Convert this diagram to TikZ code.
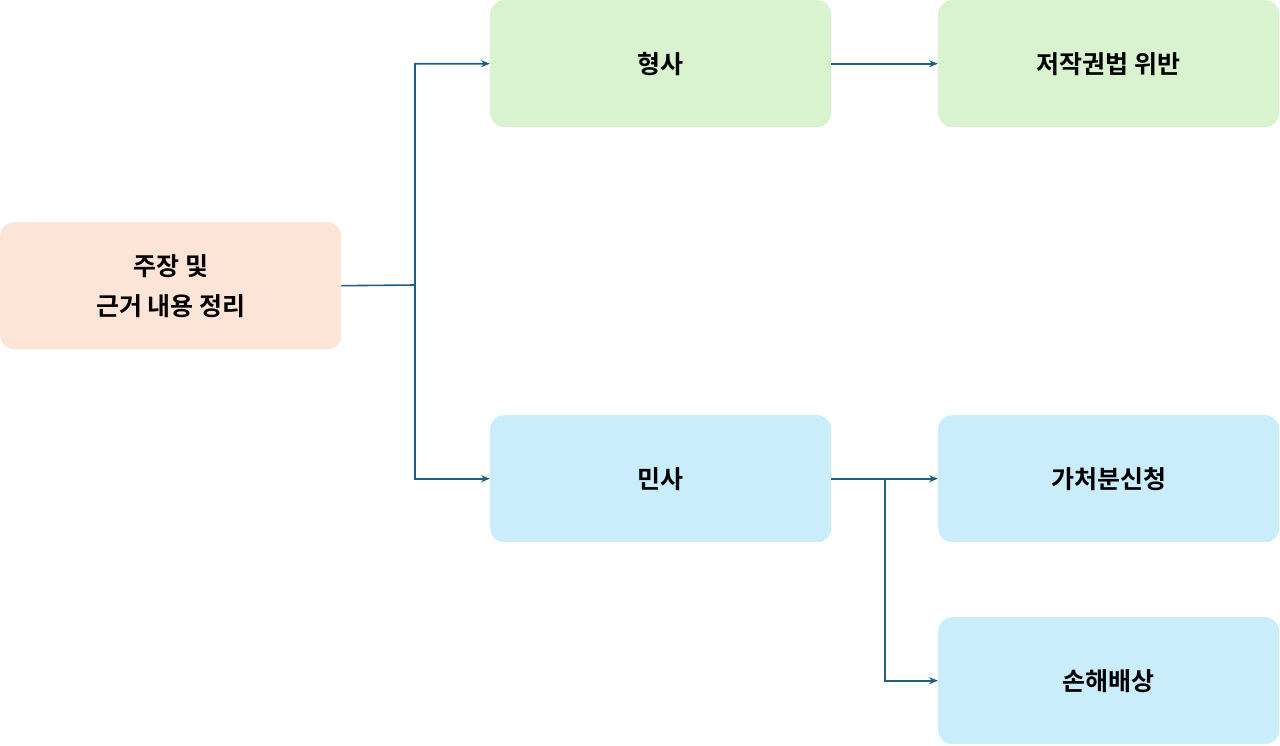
\documentclass[tikz,border=0pt]{standalone}
\usepackage{fontspec}
\setmainfont{Noto Sans CJK KR}[BoldFont={* Bold}]
\usetikzlibrary{arrows.meta}
\definecolor{peach}{HTML}{FCE4D6}
\definecolor{grn}{HTML}{D9F2D0}
\definecolor{blu}{HTML}{CAEDFB}
\definecolor{ln}{HTML}{1F5F80}
\begin{document}
\begin{tikzpicture}[x=1pt,y=-1pt,
  box/.style={rounded corners=14pt,minimum width=341pt,minimum height=127pt,anchor=north west,inner sep=0pt,font=\fontsize{25}{40}\selectfont\bfseries,align=center},
  conn/.style={draw=ln,line width=1.6pt,-{Stealth[length=9pt,width=7pt]}}]
\useasboundingbox (0,0) rectangle (1280,745);
\node[box,fill=peach] (a) at (0,222) {주장 및\\근거 내용 정리};
\node[box,fill=grn] (h) at (490,0) {형사};
\node[box,fill=grn] (j) at (938,0) {저작권법 위반};
\node[box,fill=blu] (m) at (490,415) {민사};
\node[box,fill=blu] (g) at (938,415) {가처분신청};
\node[box,fill=blu] (s) at (938,617) {손해배상};
\coordinate (b1) at (415,285);
\coordinate (b2) at (885,479);
\draw[conn] (a.east) -- (b1) |- (h.west);
\draw[conn] (b1) |- (m.west);
\draw[conn] (h.east) -- (j.west);
\draw[conn] (m.east) -- (g.west);
\draw[conn] (b2) |- (s.west);
\end{tikzpicture}
\end{document}
